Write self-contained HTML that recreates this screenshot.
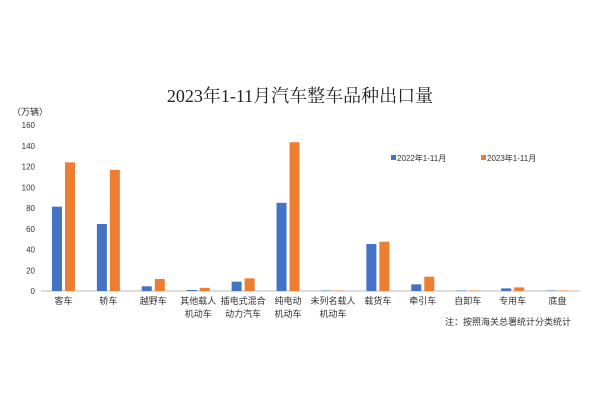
<!DOCTYPE html>
<html><head><meta charset="utf-8"><style>
body{margin:0;background:#fff;}
svg{display:block;font-family:"Liberation Sans","Noto Sans CJK SC",sans-serif;}
</style></head><body>
<svg id="c" width="600" height="400">
<text x="300" y="102" text-anchor="middle" font-size="18" font-family="Liberation Serif,Noto Serif CJK SC,serif" fill="#222">2023年1-11月汽车整车品种出口量</text>
<text x="12" y="115" font-size="9" fill="#333">（万辆）</text>
<g>
<rect x="391" y="155" width="5" height="5" fill="#4472c4"/>
<text x="397" y="161" font-size="8" fill="#333">2022年1-11月</text>
<rect x="481" y="155" width="5" height="5" fill="#ed7d31"/>
<text x="487" y="161" font-size="8" fill="#333">2023年1-11月</text>
</g>
<text x="445" y="325" font-size="9" fill="#333">注：按照海关总署统计分类统计</text>
<g id="plot"></g>
</svg>
<script>
const categories=["客车","轿车","越野车","其他载人|机动车","插电式混合|动力汽车","纯电动|机动车","未列名载人|机动车","载货车","牵引车","自卸车","专用车","底盘"];
const values2022=[81.3,64.6,4.5,1,9,85,0.5,45.3,6.4,0.5,2.5,0.5];
const values2023=[124,116.7,11.6,3,12.2,143.4,0.5,47.5,13.8,0.5,3.5,0.5];
const yTicks=[0,20,40,60,80,100,120,140,160];
const NS="http://www.w3.org/2000/svg";
const g=document.getElementById('plot');
const x0=41,x1=580,y0=291,y1=125,ymax=160;
const step=(x1-x0)/categories.length;
const y=v=>y0-(v/ymax)*(y0-y1);
function mk(t,a){const e=document.createElementNS(NS,t);for(const k in a)e.setAttribute(k,a[k]);g.appendChild(e);return e;}
yTicks.forEach(t=>{const e=mk('text',{x:35,y:y(t)+3,'text-anchor':'end','font-size':8,fill:'#333'});e.textContent=t;

});
const ax=mk('line',{x1:x0,y1:y0,x2:x1,y2:y0,stroke:'#bbb','stroke-width':1});


categories.forEach((c,i)=>{const cx=x0+step*(i+0.5);
const b1=mk('rect',{x:cx-11.5,y:y(values2022[i]),width:10,height:y0-y(values2022[i]),fill:'#4472c4'});


const b2=mk('rect',{x:cx+1.5,y:y(values2023[i]),width:10,height:y0-y(values2023[i]),fill:'#ed7d31'});


c.split('|').forEach((ln,j)=>{const t=mk('text',{x:cx,y:304+j*13,'text-anchor':'middle','font-size':9,fill:'#333'});t.textContent=ln;

});});
</script>
</body></html>
